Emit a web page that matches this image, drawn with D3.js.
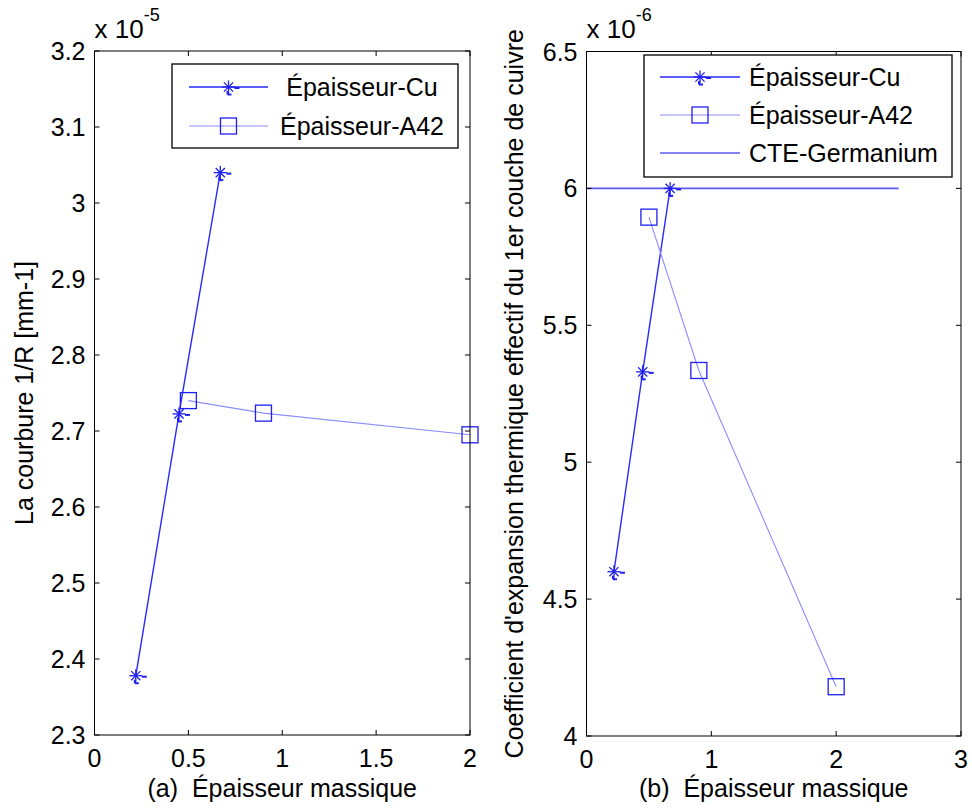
<!DOCTYPE html>
<html><head><meta charset="utf-8">
<script src="https://cdn.jsdelivr.net/npm/d3@7"></script>
<style>body{margin:0;background:#fff}svg{display:block}text{font-family:"Liberation Sans",Arial,sans-serif;fill:#000;white-space:pre}</style>
</head><body><svg id="c" width="972" height="811"></svg>
<script>
// ---- data ----
const cuX = [0.22, 0.45, 0.67];
const a42X = [0.5, 0.9, 2.0];
const courbureCu = [2.378e-5, 2.7225e-5, 3.04e-5];
const courbureA42 = [2.74e-5, 2.7235e-5, 2.695e-5];
const cteCu = [4.60e-6, 5.33e-6, 6.00e-6];
const cteA42 = [5.895e-6, 5.335e-6, 4.18e-6];
const cteGeX = [0, 2.5];
const cteGeY = [6e-6, 6e-6];
const leftXTicks = [0, 0.5, 1, 1.5, 2];
const leftYTicks = [2.3, 2.4, 2.5, 2.6, 2.7, 2.8, 2.9, 3.0, 3.1, 3.2];
const rightXTicks = [0, 1, 2, 3];
const rightYTicks = [4, 4.5, 5, 5.5, 6, 6.5];
const legendLeft = ["Épaisseur-Cu", "Épaisseur-A42"];
const legendRight = ["Épaisseur-Cu", "Épaisseur-A42", "CTE-Germanium"];

const svg = d3.select("#c");
const FS = 25;
const cuColor = "#2a2aff", a42Color = "#8c8cff", geColor = "#5a5af0", mkColor = "#1f1ff0";

function star(g, x, y) {
  const s = g.append("g").attr("transform", `translate(${x},${y})`).attr("stroke", mkColor).attr("fill", "none");
  const r = 6.5, d = 4.6;
  [[-r,0,r,0],[0,-r,0,r],[-d,-d,d,d],[-d,d,d,-d]].forEach(l =>
    s.append("line").attr("x1", l[0]).attr("y1", l[1]).attr("x2", l[2]).attr("y2", l[3]).attr("stroke-width", 1.3));
  [[6,1,11,1],[-1,7.5,3,7.5],[-1,4,-1,7.5]].forEach(l =>
    s.append("line").attr("x1", l[0]).attr("y1", l[1]).attr("x2", l[2]).attr("y2", l[3]).attr("stroke-width", 2));
}
function square(g, x, y) {
  g.append("rect").attr("x", x - 8).attr("y", y - 8).attr("width", 16).attr("height", 16)
    .attr("fill", "none").attr("stroke", mkColor).attr("stroke-width", 1.3);
}

function panel(o) {
  const x = d3.scaleLinear().domain(o.xd).range([o.l, o.r]);
  const y = d3.scaleLinear().domain(o.yd).range([o.b, o.t]);
  const g = svg.append("g");
  const line = d3.line().x(d => x(d[0])).y(d => y(d[1]));
  o.series.forEach(s => {
    g.append("path").attr("d", line(s.x.map((v, i) => [v, s.y[i]])))
      .attr("fill", "none").attr("stroke", s.color).attr("stroke-width", s.w);
    if (s.mk) s.x.forEach((v, i) => s.mk(g, x(v), y(s.y[i])));
  });
  const tl = 5;
  const ax = g.append("g").attr("stroke", "#000").attr("stroke-width", 1);
  ax.append("rect").attr("x", o.l).attr("y", o.t).attr("width", o.r - o.l).attr("height", o.b - o.t).attr("fill", "none");
  const fmt = v => (Math.round(v * 10) / 10).toString();
  o.xt.forEach(v => {
    const px = x(v);
    ax.append("line").attr("x1", px).attr("x2", px).attr("y1", o.b).attr("y2", o.b - tl);
    ax.append("line").attr("x1", px).attr("x2", px).attr("y1", o.t).attr("y2", o.t + tl);
    g.append("text").attr("x", px).attr("y", o.b + 32).attr("text-anchor", "middle").attr("font-size", FS).text(fmt(v));
  });
  o.yt.forEach(v => {
    const py = y(v * o.scale);
    ax.append("line").attr("x1", o.l).attr("x2", o.l + tl).attr("y1", py).attr("y2", py);
    ax.append("line").attr("x1", o.r).attr("x2", o.r - tl).attr("y1", py).attr("y2", py);
    g.append("text").attr("x", o.l - 9).attr("y", py + 9).attr("text-anchor", "end").attr("font-size", FS).text(fmt(v));
  });
  const ex = g.append("text").attr("x", o.l).attr("y", 38).attr("font-size", 26);
  ex.append("tspan").text("x 10");
  ex.append("tspan").attr("dy", -17).attr("font-size", 18).text(o.exp);
  g.append("text").attr("x", (o.l + o.r) / 2).attr("y", 797).attr("text-anchor", "middle").attr("font-size", FS).text(o.xlabel);
  g.append("text").attr("transform", `translate(${o.ylx},${(o.t + o.b) / 2}) rotate(-90)`)
    .attr("text-anchor", "middle").attr("font-size", FS).text(o.ylabel);
  const L = o.leg;
  const lg = g.append("g");
  lg.append("rect").attr("x", L.x0).attr("y", L.y0).attr("width", L.x1 - L.x0).attr("height", L.y1 - L.y0)
    .attr("fill", "#fff").attr("stroke", "#000").attr("stroke-width", 1.3);
  L.items.forEach((it, i) => {
    const yy = L.rows[i];
    lg.append("line").attr("x1", L.lx0).attr("x2", L.lx1).attr("y1", yy).attr("y2", yy)
      .attr("stroke", it.color).attr("stroke-width", it.w);
    if (it.mk) it.mk(lg, (L.lx0 + L.lx1) / 2, yy);
    lg.append("text").attr("x", L.tx).attr("y", yy + 9).attr("text-anchor", L.anchor)
      .attr("font-size", FS).text(it.label);
  });
}

panel({
  l: 94.5, r: 470, t: 51, b: 735,
  xd: [0, 2], yd: [2.3e-5, 3.2e-5], scale: 1e-5,
  xt: leftXTicks, yt: leftYTicks, exp: "-5",
  xlabel: "(a)  Épaisseur massique", ylabel: "La courbure 1/R [mm-1]", ylx: 33,
  series: [
    { x: cuX, y: courbureCu, color: cuColor, w: 1.4, mk: star },
    { x: a42X, y: courbureA42, color: a42Color, w: 1.1, mk: square }
  ],
  leg: { x0: 172, x1: 458, y0: 64, y1: 148, lx0: 189, lx1: 268, tx: 362, anchor: "middle", rows: [87, 126],
    items: [
      { label: legendLeft[0], color: cuColor, w: 1.4, mk: star },
      { label: legendLeft[1], color: a42Color, w: 1.1, mk: square }
    ] }
});

panel({
  l: 586.5, r: 961, t: 51.5, b: 736,
  xd: [0, 3], yd: [4e-6, 6.5e-6], scale: 1e-6,
  xt: rightXTicks, yt: rightYTicks, exp: "-6",
  xlabel: "(b)  Épaisseur massique", ylabel: "Coefficient d'expansion thermique effectif du 1er couche de cuivre", ylx: 523,
  series: [
    { x: cteGeX, y: cteGeY, color: geColor, w: 1.6 },
    { x: cuX, y: cteCu, color: cuColor, w: 1.4, mk: star },
    { x: a42X, y: cteA42, color: a42Color, w: 1.1, mk: square }
  ],
  leg: { x0: 644, x1: 952, y0: 55, y1: 177, lx0: 660, lx1: 740, tx: 749, anchor: "start", rows: [77, 115, 153],
    items: [
      { label: legendRight[0], color: cuColor, w: 1.4, mk: star },
      { label: legendRight[1], color: a42Color, w: 1.1, mk: square },
      { label: legendRight[2], color: geColor, w: 1.6 }
    ] }
});
</script></body></html>
